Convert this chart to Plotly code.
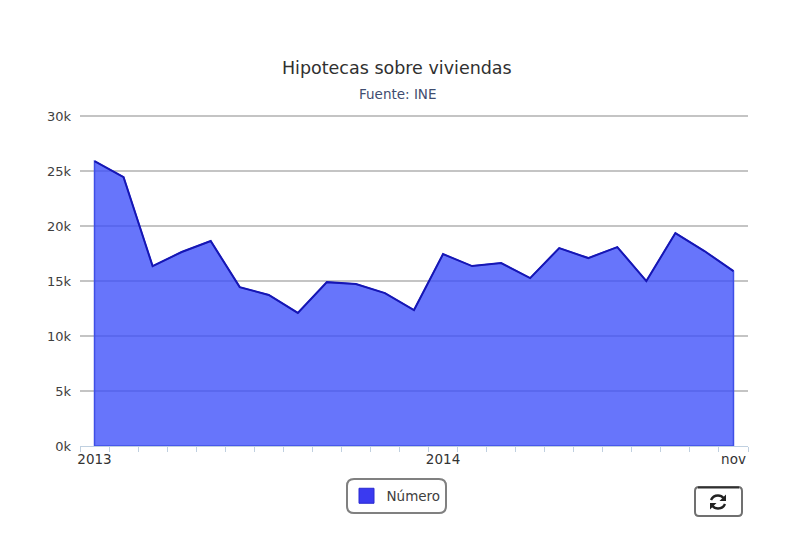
import plotly.graph_objects as go

months = ["ene 13","feb 13","mar 13","abr 13","may 13","jun 13","jul 13","ago 13","sep 13","oct 13","nov 13","dic 13",
          "ene 14","feb 14","mar 14","abr 14","may 14","jun 14","jul 14","ago 14","sep 14","oct 14","nov 14"]
numero = [25900,24450,16360,17640,18640,14450,13730,12100,14900,14730,13900,12360,
          17450,16360,16640,15270,18000,17090,18090,15000,19360,17730,15900]
tick_labels = ["2013"] + [""]*11 + ["2014"] + [""]*9 + ["nov"]
y_ticks = [0,5000,10000,15000,20000,25000,30000]
y_labels = ["0k","5k","10k","15k","20k","25k","30k"]

W, H = 800, 533
L, R, T, B = 80, 52, 115, 87
pw, ph = W-L-R, H-T-B
FONT = "DejaVu Sans, Liberation Sans, sans-serif"

def px(x): return (x-L)/pw
def py(y): return (H-B-y)/ph

def rounded(x0,y0,x1,y1,r):
    a,b,c,d = px(x0),py(y0),px(x1),py(y1)
    rx,ry = r/pw, r/ph
    return (f"M{a+rx},{b} L{c-rx},{b} Q{c},{b} {c},{b-ry} L{c},{d+ry} Q{c},{d} {c-rx},{d} "
            f"L{a+rx},{d} Q{a},{d} {a},{d+ry} L{a},{b-ry} Q{a},{b} {a+rx},{b} Z")

def pth(cmds):
    out = []
    for c in cmds:
        out.append(c[0] + " ".join(f"{px(c[i])},{py(c[i+1])}" for i in range(1,len(c),2)))
    return " ".join(out)

fig = go.Figure()
fig.add_trace(go.Scatter(
    x=[months[0]]+months+[months[-1],months[0]], y=[0]+numero+[0,0],
    mode="lines", fill="toself", fillcolor="rgba(60,78,250,0.78)",
    line=dict(color="#3f4fe6", width=1.5), showlegend=False, hoverinfo="skip"))
fig.add_trace(go.Scatter(
    x=months, y=numero, mode="lines", line=dict(color="#1616b4", width=2),
    showlegend=False, name="Número"))
fig.add_trace(go.Scatter(
    x=[None], y=[None], mode="markers", name="Número",
    marker=dict(symbol="square", size=15, color="#3a3af0", line=dict(color="#2a2ad0", width=1))))

icon = [
    pth([("M",711,500),("Q",713,495.5,718,495.5),("Q",721.5,495.5,723.5,498)]),
    pth([("M",725,504),("Q",723,508.5,718,508.5),("Q",714.5,508.5,712.5,506)]),
]
heads = [
    pth([("M",726,494.5),("L",726,501),("L",719.5,501),("Z",)]),
    pth([("M",710,509.5),("L",710,503),("L",716.5,503),("Z",)]),
]

fig.update_layout(
    width=W, height=H, autosize=False,
    margin=dict(l=L,r=R,t=T,b=B),
    paper_bgcolor="white", plot_bgcolor="white",
    font=dict(family=FONT, color="#333333", size=12),
    title=dict(text="Hipotecas sobre viviendas", x=0.496, xanchor="center", y=0.872, yanchor="middle",
               font=dict(size=17.5, color="#303030")),
    annotations=[dict(text="Fuente: INE", xref="paper", yref="paper", x=px(397.5), y=py(94),
                      xanchor="center", yanchor="middle", showarrow=False,
                      font=dict(size=13.5, color="#3f4d70"))],
    xaxis=dict(type="category", categoryorder="array", categoryarray=months,
               range=[-0.5,len(months)-0.5], tickmode="array", tickvals=months, ticktext=tick_labels,
               tickson="boundaries", ticks="outside", ticklen=5, tickwidth=1, tickcolor="#c0d0e0",
               showgrid=False, showline=True, linecolor="#c0d0e0", linewidth=1, zeroline=False,
               tickangle=0, ticklabelstandoff=1, tickfont=dict(size=13.5, color="#333333")),
    yaxis=dict(range=[0,30100], tickmode="array", tickvals=y_ticks, ticktext=y_labels,
               showgrid=True, gridcolor="#c4c4c4", gridwidth=2, zeroline=False, showline=False,
               ticks="", ticklabelstandoff=8, tickfont=dict(size=13, color="#404040")),
    legend=dict(x=px(396), y=py(496), xanchor="center", yanchor="middle",
                orientation="h", borderwidth=0, bgcolor="rgba(0,0,0,0)",
                font=dict(size=13.5, color="#404040")),
    shapes=[
        dict(type="path", xref="paper", yref="paper", path=rounded(347,479,446,513,7),
             line=dict(color="#808080", width=2), fillcolor="rgba(0,0,0,0)"),
        dict(type="path", xref="paper", yref="paper", path=rounded(695,487,742,516,4),
             line=dict(color="#707070", width=2), fillcolor="white"),
        dict(type="path", xref="paper", yref="paper", path=pth([("M",698,487.5),("L",739,487.5)]),
             line=dict(color="#303030", width=2)),
    ] + [dict(type="path", xref="paper", yref="paper", path=p, line=dict(color="#222222", width=2.4))
         for p in icon]
      + [dict(type="path", xref="paper", yref="paper", path=p, line=dict(width=0), fillcolor="#222222")
         for p in heads],
)
fig.write_html("out.html", config=dict(displayModeBar=False),
               post_script="document.body.style.margin='0';")
